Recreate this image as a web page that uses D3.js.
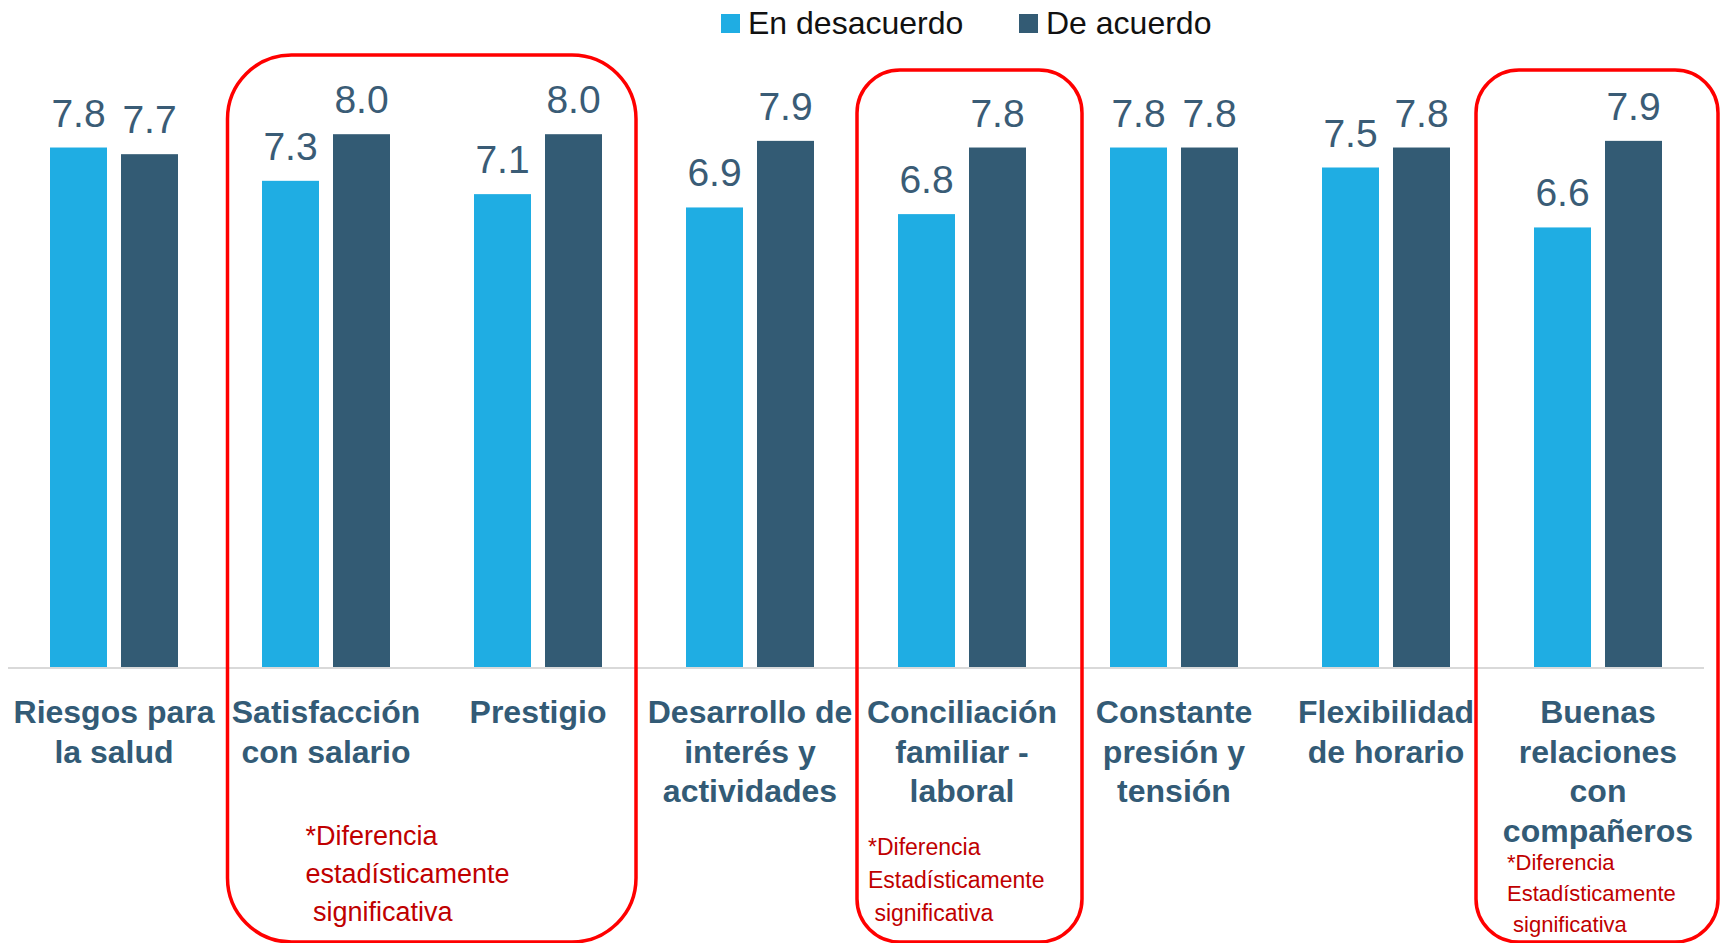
<!DOCTYPE html>
<html lang="es">
<head>
<meta charset="utf-8">
<script src="https://cdn.jsdelivr.net/npm/d3@7"></script>
<style>
  html, body { margin: 0; padding: 0; background: #ffffff; }
  svg { display: block; }
</style>
</head>
<body>
<div id="chart"></div>
<script>
// Categorías (cada una partida en líneas tal como se rotula bajo el eje)
const categories = [
  "Riesgos para la salud",
  "Satisfacción con salario",
  "Prestigio",
  "Desarrollo de interés y actividades",
  "Conciliación familiar - laboral",
  "Constante presión y tensión",
  "Flexibilidad de horario",
  "Buenas relaciones con compañeros"
];
const categoryLines = [
  ["Riesgos para", "la salud"],
  ["Satisfacción", "con salario"],
  ["Prestigio"],
  ["Desarrollo de", "interés y", "actividades"],
  ["Conciliación", "familiar -", "laboral"],
  ["Constante", "presión y", "tensión"],
  ["Flexibilidad", "de horario"],
  ["Buenas", "relaciones", "con", "compañeros"]
];

// Series
const seriesNames = ["En desacuerdo", "De acuerdo"];
const enDesacuerdo = [7.8, 7.3, 7.1, 6.9, 6.8, 7.8, 7.5, 6.6];
const deAcuerdo    = [7.7, 8.0, 8.0, 7.9, 7.8, 7.8, 7.8, 7.9];

// Grupos con diferencia estadísticamente significativa (índices de categoría)
const significantGroups = [[1, 2], [4], [7]];
const noteLines = [
  ["*Diferencia", "estadísticamente", " significativa"],
  ["*Diferencia", "Estadísticamente", " significativa"],
  ["*Diferencia", "Estadísticamente", " significativa"]
];

// ---- Layout ----
const W = 1723, H = 943;
const colors = { "En desacuerdo": "#1FADE3", "De acuerdo": "#335B74" };
const labelColor = "#335B76";
const FONT = "'Liberation Sans', Arial, sans-serif";

const svg = d3.select("#chart").append("svg")
  .attr("width", W).attr("height", H);

const x = d3.scaleBand().domain(d3.range(categories.length)).range([8, 1704]).padding(0);
const clusterW = 128;
const xs = d3.scaleBand().domain(seriesNames)
  .range([(x.bandwidth() - clusterW) / 2, (x.bandwidth() + clusterW) / 2])
  .paddingInner(14 / 71).paddingOuter(0);
const y = d3.scaleLinear().domain([0, 10]).range([667, 1]);

const rows = categories.map((c, i) => ({
  i,
  values: [
    { key: "En desacuerdo", v: enDesacuerdo[i] },
    { key: "De acuerdo", v: deAcuerdo[i] }
  ]
}));

// Barras
const groups = svg.append("g").selectAll("g")
  .data(rows).join("g")
  .attr("transform", d => `translate(${x(d.i)},0)`);

groups.selectAll("rect")
  .data(d => d.values).join("rect")
  .attr("x", d => xs(d.key))
  .attr("width", xs.bandwidth())
  .attr("y", d => y(d.v))
  .attr("height", d => y(0) - y(d.v))
  .attr("fill", d => colors[d.key]);

// Etiquetas de valor
groups.selectAll("text.val")
  .data(d => d.values).join("text")
  .attr("class", "val")
  .attr("x", d => xs(d.key) + xs.bandwidth() / 2)
  .attr("y", d => y(d.v) - 21)
  .attr("text-anchor", "middle")
  .attr("font-family", FONT)
  .attr("font-size", 39)
  .attr("fill", "#3A5C76")
  .text(d => d3.format(".1f")(d.v));

// Línea del eje
svg.append("line")
  .attr("x1", x.range()[0]).attr("x2", x.range()[1])
  .attr("y1", y(0) + 1).attr("y2", y(0) + 1)
  .attr("stroke", "#D9D9D9").attr("stroke-width", 2);

// Etiquetas de categoría
const catLabels = svg.append("g").selectAll("text")
  .data(categoryLines.map((lines, i) => ({ lines, i }))).join("text")
  .attr("text-anchor", "middle")
  .attr("font-family", FONT)
  .attr("font-weight", "bold")
  .attr("font-size", 32)
  .attr("fill", labelColor);
catLabels.selectAll("tspan")
  .data(d => d.lines.map(t => ({ t, cx: x(d.i) + x.bandwidth() / 2 }))).join("tspan")
  .attr("x", d => d.cx)
  .attr("y", (d, k) => 723 + k * 39.5)
  .text(d => d.t);

// Recuadros de diferencia significativa
const boxStyle = [
  { padL: 7.5, padR: -8, top: 55, r: 64, noteDx: 78, noteY: 845, noteStep: 38, noteSize: 27 },
  { padL: 1, padR: 14, top: 70, r: 43, noteDx: 11, noteY: 855, noteStep: 33, noteSize: 23 },
  { padL: -16, padR: 14, top: 70, r: 43, noteDx: 31, noteY: 870, noteStep: 31, noteSize: 22 }
];
const boxBottom = 942;

significantGroups.forEach((g, j) => {
  const s = boxStyle[j];
  const x0 = x(g[0]) + s.padL;
  const x1 = x(g[g.length - 1]) + x.bandwidth() + s.padR;
  svg.append("rect")
    .attr("x", x0).attr("y", s.top)
    .attr("width", x1 - x0).attr("height", boxBottom - s.top)
    .attr("rx", s.r).attr("ry", s.r)
    .attr("fill", "none")
    .attr("stroke", "#FF0000").attr("stroke-width", 3.5);

  svg.append("text")
    .attr("font-family", FONT)
    .attr("font-size", s.noteSize)
    .attr("fill", "#C00000")
    .attr("xml:space", "preserve")
    .style("white-space", "pre")
    .selectAll("tspan")
    .data(noteLines[j]).join("tspan")
    .attr("x", x0 + s.noteDx)
    .attr("y", (d, k) => s.noteY + k * s.noteStep)
    .text(d => d);
});

// Leyenda
const legend = svg.append("g");
const legendItems = [
  { key: "En desacuerdo", x: 721 },
  { key: "De acuerdo", x: 1019 }
];
legendItems.forEach(it => {
  legend.append("rect")
    .attr("x", it.x).attr("y", 14).attr("width", 19).attr("height", 19)
    .attr("fill", colors[it.key]);
  legend.append("text")
    .attr("x", it.x + 27).attr("y", 34)
    .attr("font-family", FONT).attr("font-size", 32)
    .attr("fill", "#111111")
    .text(it.key);
});
</script>
</body>
</html>
